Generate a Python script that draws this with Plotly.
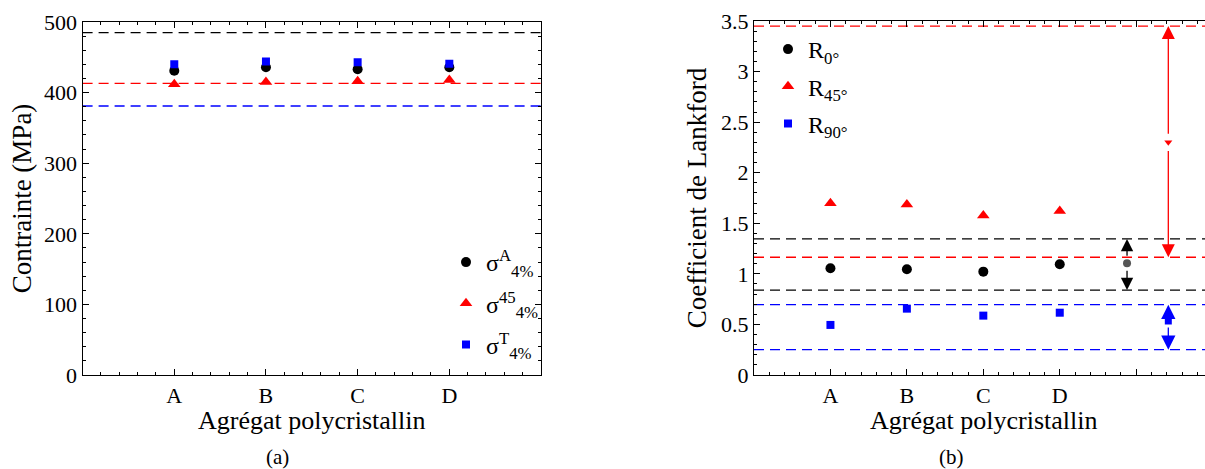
import plotly.graph_objects as go

# ---------------- data ----------------
categories = ["A", "B", "C", "D"]
cat_pos = [1, 2, 3, 4]

# panel (a) : stresses at 4% (MPa)
sigma_A = [431, 436, 433, 436]
sigma_45 = [412, 415, 416, 418]
sigma_T = [440, 444, 443, 441]
ref_A = 485
ref_45 = 413
ref_T = 381

# panel (b) : Lankford coefficients
R0 = [1.055, 1.045, 1.022, 1.095]
R45 = [1.698, 1.685, 1.576, 1.622]
R90 = [0.495, 0.656, 0.587, 0.616]
R0_bounds = [0.84, 1.345]
R45_bounds = [1.164, 3.45]
R90_bounds = [0.25, 0.695]
R0_mid_x, R0_mid = 4.88, 1.105
R45_mid_x, R45_mid = 5.42, 2.30
R90_mid_x, R90_mid = 5.42, 0.534

FONT = "Liberation Serif"
BLACK, RED, BLUE, GREY = "#000000", "#ff0000", "#0000ff", "#555555"
DASH = "10px,6px"
XTITLE = "Agrégat polycristallin"

fig = go.Figure()

# ---- panel (a) ----
xl = [0, 5]
for lvl, col in [(ref_A, BLACK), (ref_45, RED), (ref_T, BLUE)]:
    fig.add_trace(go.Scatter(x=xl, y=[lvl, lvl], mode="lines", xaxis="x", yaxis="y",
                             line=dict(color=col, width=1.3, dash=DASH), showlegend=False,
                             hoverinfo="skip"))
fig.add_trace(go.Scatter(x=cat_pos, y=sigma_A, mode="markers", xaxis="x", yaxis="y",
                         marker=dict(symbol="circle", size=10, color=BLACK),
                         name="σ<sup>A</sup><sub>4%</sub>", legend="legend", legendgroup="a1"))
fig.add_trace(go.Scatter(x=cat_pos, y=sigma_45, mode="markers", xaxis="x", yaxis="y",
                         marker=dict(symbol="triangle-up", size=11, color=RED),
                         name="σ<sup>45</sup><sub>4%</sub>", legend="legend", legendgroup="a2"))
fig.add_trace(go.Scatter(x=cat_pos, y=sigma_T, mode="markers", xaxis="x", yaxis="y",
                         marker=dict(symbol="square", size=8, color=BLUE),
                         name="σ<sup>T</sup><sub>4%</sub>", legend="legend", legendgroup="a3"))

# ---- panel (b) ----
xr = [0, 6]
for lvl, col in [(R45_bounds[1], RED), (R0_bounds[1], BLACK), (R45_bounds[0], RED),
                 (R0_bounds[0], BLACK), (R90_bounds[1], BLUE), (R90_bounds[0], BLUE)]:
    fig.add_trace(go.Scatter(x=xr, y=[lvl, lvl], mode="lines", xaxis="x2", yaxis="y2",
                             line=dict(color=col, width=1.3, dash=DASH), showlegend=False,
                             hoverinfo="skip"))
fig.add_trace(go.Scatter(x=cat_pos, y=R0, mode="markers", xaxis="x2", yaxis="y2",
                         marker=dict(symbol="circle", size=10, color=BLACK),
                         name="R<sub>0°</sub>", legend="legend2", legendgroup="b1"))
fig.add_trace(go.Scatter(x=cat_pos, y=R45, mode="markers", xaxis="x2", yaxis="y2",
                         marker=dict(symbol="triangle-up", size=11, color=RED),
                         name="R<sub>45°</sub>", legend="legend2", legendgroup="b2"))
fig.add_trace(go.Scatter(x=cat_pos, y=R90, mode="markers", xaxis="x2", yaxis="y2",
                         marker=dict(symbol="square", size=8, color=BLUE),
                         name="R<sub>90°</sub>", legend="legend2", legendgroup="b3"))
# middle markers
fig.add_trace(go.Scatter(x=[R0_mid_x], y=[R0_mid], mode="markers", xaxis="x2", yaxis="y2",
                         marker=dict(symbol="circle", size=8, color=GREY), showlegend=False))
fig.add_trace(go.Scatter(x=[R45_mid_x], y=[R45_mid], mode="markers", xaxis="x2", yaxis="y2",
                         marker=dict(symbol="triangle-down", size=7, color=RED), showlegend=False))
fig.add_trace(go.Scatter(x=[R90_mid_x], y=[R90_mid], mode="markers", xaxis="x2", yaxis="y2",
                         marker=dict(symbol="square", size=7, color=BLUE), showlegend=False))

# arrows (head at bound, tail near middle marker)
def arrow(x, y_head, y_tail, col, size=2.0, width=1.3):
    fig.add_annotation(x=x, y=y_head, ax=x, ay=y_tail, xref="x2", yref="y2",
                       axref="x2", ayref="y2", text="", showarrow=True,
                       arrowhead=2, arrowsize=size, arrowwidth=width, arrowcolor=col)

arrow(R0_mid_x, R0_bounds[1], R0_mid + 0.06, BLACK, 1.9)
arrow(R0_mid_x, R0_bounds[0], R0_mid - 0.06, BLACK, 1.9)
arrow(R45_mid_x, R45_bounds[1], R45_mid + 0.07, RED, 2.0)
arrow(R45_mid_x, R45_bounds[0], R45_mid - 0.07, RED, 2.0)
arrow(R90_mid_x, R90_bounds[1], R90_mid + 0.05, BLUE, 2.2)
arrow(R90_mid_x, R90_bounds[0], R90_mid - 0.05, BLUE, 2.2)

# ---------------- axes ----------------
tickfont = dict(family=FONT, size=22, color="black")
titlefont = dict(family=FONT, size=26, color="black")

common_x = dict(showline=True, linecolor="black", linewidth=1.3, ticks="inside", ticklen=6,
                tickwidth=1.2, tickcolor="black", mirror="allticks", showgrid=False,
                zeroline=False, tickfont=tickfont, tickmode="array",
                minor=dict(ticks="inside", ticklen=3, tickwidth=1, tickcolor="black", dtick=0.2,
                           showgrid=False),
                automargin=False)

fig.update_layout(
    width=1205, height=469,
    margin=dict(l=0, r=0, t=0, b=0),
    paper_bgcolor="white", plot_bgcolor="white",
    font=dict(family=FONT, color="black"),
    xaxis=dict(common_x, domain=[82.6 / 1205, 541 / 1205], range=xl,
               tickvals=[0] + cat_pos + [5], ticktext=[""] + categories + [""],
               anchor="y"),
    yaxis=dict(domain=[94 / 469, 447 / 469], range=[0, 500], dtick=100,
               showline=True, linecolor="black", linewidth=1.3, ticks="inside", ticklen=6,
               tickwidth=1.2, tickcolor="black", mirror="allticks", showgrid=False,
               zeroline=False, tickfont=tickfont, anchor="x",
               minor=dict(ticks="inside", ticklen=3, tickwidth=1, tickcolor="black", dtick=20,
                          showgrid=False),
               title=dict(text="Contrainte (MPa)", font=dict(titlefont, size=27), standoff=4),
               automargin=False),
    xaxis2=dict(common_x, domain=[754 / 1205, 1.0], range=[0, 5.9],
                tickvals=[0] + cat_pos + [5], ticktext=[""] + categories + [""],
                anchor="y2"),
    yaxis2=dict(domain=[94 / 469, 448 / 469], range=[0, 3.5], dtick=0.5,
                tickvals=[0, 0.5, 1, 1.5, 2, 2.5, 3, 3.5],
                ticktext=["0", "0.5", "1", "1.5", "2", "2.5", "3", "3.5"],
                showline=True, linecolor="black", linewidth=1.3, ticks="inside", ticklen=6,
                tickwidth=1.2, tickcolor="black", mirror=False, showgrid=False,
                zeroline=False, tickfont=tickfont, anchor="x2",
                minor=dict(ticks="inside", ticklen=3, tickwidth=1, tickcolor="black", dtick=0.1,
                           showgrid=False),
                title=dict(text="Coefficient de Lankford", font=dict(titlefont, size=27),
                           standoff=6),
                automargin=False),
    legend=dict(x=446 / 1205, xanchor="left", y=(469 - 240) / 469, yanchor="top",
                bgcolor="rgba(0,0,0,0)", font=dict(family=FONT, size=24),
                tracegroupgap=7),
    legend2=dict(x=768 / 1205, xanchor="left", y=(469 - 27) / 469, yanchor="top",
                 bgcolor="rgba(0,0,0,0)", font=dict(family=FONT, size=24),
                 tracegroupgap=3),
)

# x-axis titles
fig.add_annotation(text=XTITLE, x=311.8 / 1205, y=(469 - 420) / 469, xref="paper",
                   yref="paper", xanchor="center", yanchor="middle", showarrow=False,
                   font=titlefont)
fig.add_annotation(text=XTITLE, x=983 / 1205, y=(469 - 420) / 469, xref="paper",
                   yref="paper", xanchor="center", yanchor="middle", showarrow=False,
                   font=titlefont)

fig.add_annotation(text="(a)", x=277 / 1205, y=(469 - 457) / 469, xref="paper", yref="paper",
                   xanchor="center", yanchor="middle", showarrow=False,
                   font=dict(family=FONT, size=21))
fig.add_annotation(text="(b)", x=951 / 1205, y=(469 - 457) / 469, xref="paper", yref="paper",
                   xanchor="center", yanchor="middle", showarrow=False,
                   font=dict(family=FONT, size=21))

fig.write_html("out.html", config={"displayModeBar": False},
               post_script="document.body.style.margin='0';")
